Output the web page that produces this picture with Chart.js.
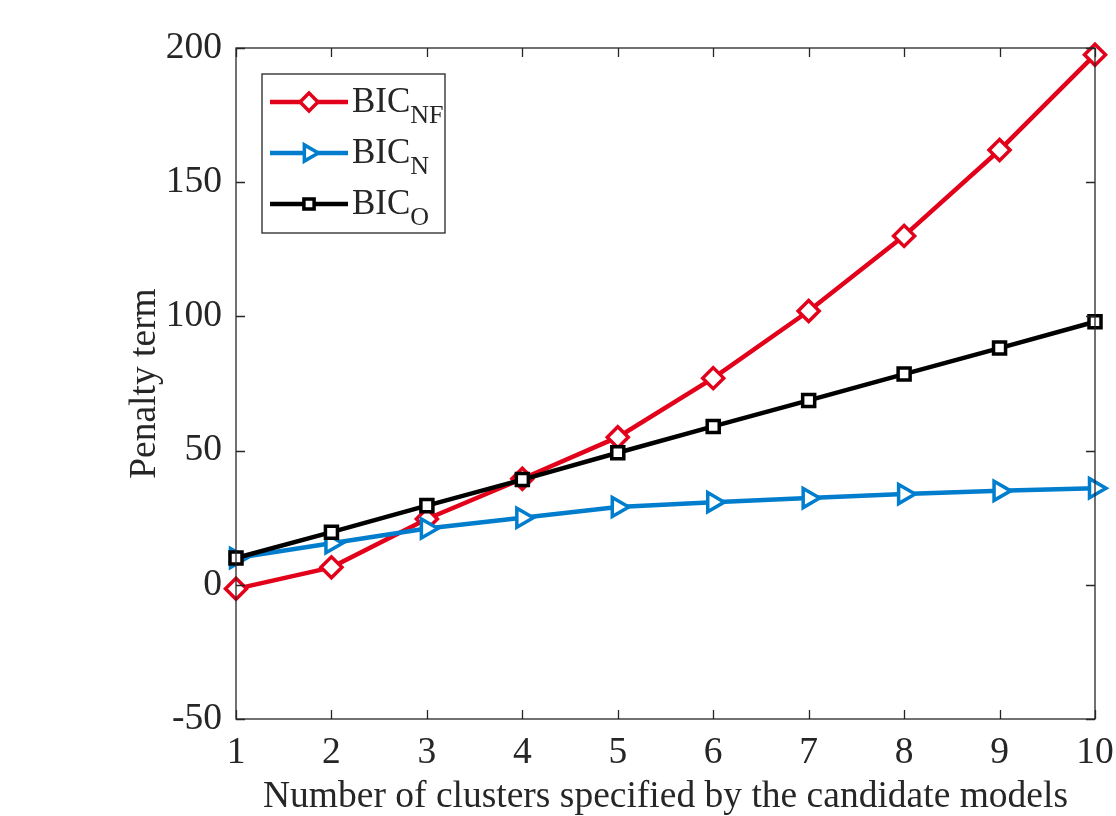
<!DOCTYPE html>
<html>
<head>
<meta charset="utf-8">
<script src="https://cdn.jsdelivr.net/npm/chart.js@4/dist/chart.umd.min.js"></script>
<style>
  html, body { margin: 0; padding: 0; background: #fff; }
  #wrap { width: 1116px; height: 816px; }
</style>
</head>
<body>
<div id="wrap"><canvas id="penalty"></canvas></div>
<script>
// values
const clusters = [1, 2, 3, 4, 5, 6, 7, 8, 9, 10];
const bicNF = [-1.5, 6.5, 24.5, 39.5, 55, 77, 102, 130, 162, 197.5];
const bicN = [10, 15.5, 21, 25, 29, 30.8, 32.3, 33.8, 35, 36];
const bicO = [10, 19.6, 29.5, 39.2, 49.2, 59, 68.7, 78.5, 88.2, 98];
const yTicks = [-50, 0, 50, 100, 150, 200];

const legendNames = [
  { main: "BIC", sub: "NF" },
  { main: "BIC", sub: "N" },
  { main: "BIC", sub: "O" },
];

const axisColor = "#262626";
const serif = "'Liberation Serif', 'Times New Roman', serif";

// box round the axes with inward ticks on every side
const framePlugin = {
  id: "frame",
  afterDatasetsDraw(chart) {
    const { ctx, chartArea: a, scales } = chart;
    const tick = 9;
    ctx.save();
    ctx.strokeStyle = axisColor;
    ctx.lineWidth = 1.3;
    ctx.strokeRect(a.left, a.top, a.right - a.left, a.bottom - a.top);
    ctx.beginPath();
    for (const t of scales.y.ticks) {
      const py = Math.round(scales.y.getPixelForValue(t.value)) + 0.5;
      ctx.moveTo(a.left, py);
      ctx.lineTo(a.left + tick, py);
      ctx.moveTo(a.right, py);
      ctx.lineTo(a.right - tick, py);
    }
    for (let i = 0; i < clusters.length; i++) {
      const px = Math.round(scales.x.getPixelForValue(i)) + 0.5;
      ctx.moveTo(px, a.bottom);
      ctx.lineTo(px, a.bottom - tick);
      ctx.moveTo(px, a.top);
      ctx.lineTo(px, a.top + tick);
    }
    ctx.stroke();
    ctx.restore();
  },
};

// MATLAB style legend with subscripts
const legendPlugin = {
  id: "subLegend",
  afterDraw(chart) {
    const { ctx } = chart;
    const box = { x: 262, y: 74, w: 183, h: 159 };
    ctx.save();
    ctx.fillStyle = "#fff";
    ctx.fillRect(box.x, box.y, box.w, box.h);
    ctx.strokeStyle = axisColor;
    ctx.lineWidth = 1.3;
    ctx.strokeRect(box.x, box.y, box.w, box.h);
    chart.data.datasets.forEach((ds, i) => {
      const rowY = 102 + i * 51;
      ctx.strokeStyle = ds.borderColor;
      ctx.lineWidth = ds.borderWidth;
      ctx.beginPath();
      ctx.moveTo(270, rowY);
      ctx.lineTo(348, rowY);
      ctx.stroke();
      ctx.fillStyle = "#fff";
      ctx.lineWidth = ds.pointBorderWidth;
      Chart.helpers.drawPoint(ctx, {
        pointStyle: ds.pointStyle,
        radius: ds.pointRadius * 0.85,
        rotation: ds.pointRotation || 0,
        borderWidth: ds.pointBorderWidth,
      }, 309, rowY);
      ctx.fillStyle = axisColor;
      ctx.textBaseline = "alphabetic";
      ctx.font = "35px " + serif;
      ctx.fillText(legendNames[i].main, 352, rowY + 10);
      const w = ctx.measureText(legendNames[i].main).width;
      ctx.font = "26px " + serif;
      ctx.fillText(legendNames[i].sub, 352 + w, rowY + 21);
    });
    ctx.restore();
  },
};

new Chart(document.getElementById("penalty"), {
  type: "line",
  data: {
    labels: clusters,
    datasets: [
      {
        label: "BIC_NF",
        data: bicNF,
        borderColor: "rgb(226, 0, 26)",
        backgroundColor: "#fff",
        borderWidth: 4.5,
        pointStyle: "rectRot",
        pointRadius: 10.5,
        pointBorderWidth: 3.5,
        pointBackgroundColor: "#fff",
        order: 3,
        clip: false,
      },
      {
        label: "BIC_N",
        data: bicN,
        borderColor: "rgb(0, 125, 204)",
        backgroundColor: "#fff",
        borderWidth: 4.5,
        pointStyle: "triangle",
        pointRotation: 90,
        pointRadius: 11,
        pointBorderWidth: 3.5,
        pointBackgroundColor: "#fff",
        order: 2,
        clip: false,
      },
      {
        label: "BIC_O",
        data: bicO,
        borderColor: "#000",
        backgroundColor: "#fff",
        borderWidth: 4.5,
        pointStyle: "rect",
        pointRadius: 8.5,
        pointBorderWidth: 3.5,
        pointBackgroundColor: "#fff",
        order: 1,
        clip: false,
      },
    ],
  },
  options: {
    responsive: true,
    maintainAspectRatio: false,
    animation: false,
    layout: { padding: { top: 48, right: 21, left: 0, bottom: 0 } },
    plugins: {
      legend: { display: false },
      tooltip: { enabled: false },
    },
    scales: {
      x: {
        offset: false,
        grid: { display: false, drawTicks: false },
        border: { display: false },
        ticks: {
          color: axisColor,
          font: { family: serif, size: 37.5 },
          padding: 12,
          maxRotation: 0,
        },
        title: {
          display: true,
          text: "Number of clusters specified by the candidate models",
          color: axisColor,
          font: { family: serif, size: 37.5, lineHeight: 1 },
          padding: { top: 0, bottom: 0 },
        },
        afterFit(scale) {
          scale.height = 97;
          scale.paddingLeft = 0;
          scale.paddingRight = 0;
        },
      },
      y: {
        min: -50,
        max: 200,
        afterBuildTicks(scale) {
          scale.ticks = yTicks.map((v) => ({ value: v }));
        },
        grid: { display: false, drawTicks: false },
        border: { display: false },
        ticks: {
          color: axisColor,
          font: { family: serif, size: 37.5 },
          padding: 14,
        },
        title: {
          display: true,
          text: "Penalty term",
          color: axisColor,
          font: { family: serif, size: 37.5, lineHeight: 1 },
          padding: { top: 126, bottom: 0 },
        },
        afterFit(scale) {
          scale.width = 236;
          scale.paddingTop = 0;
          scale.paddingBottom = 0;
        },
      },
    },
  },
  plugins: [framePlugin, legendPlugin],
});
</script>
</body>
</html>
